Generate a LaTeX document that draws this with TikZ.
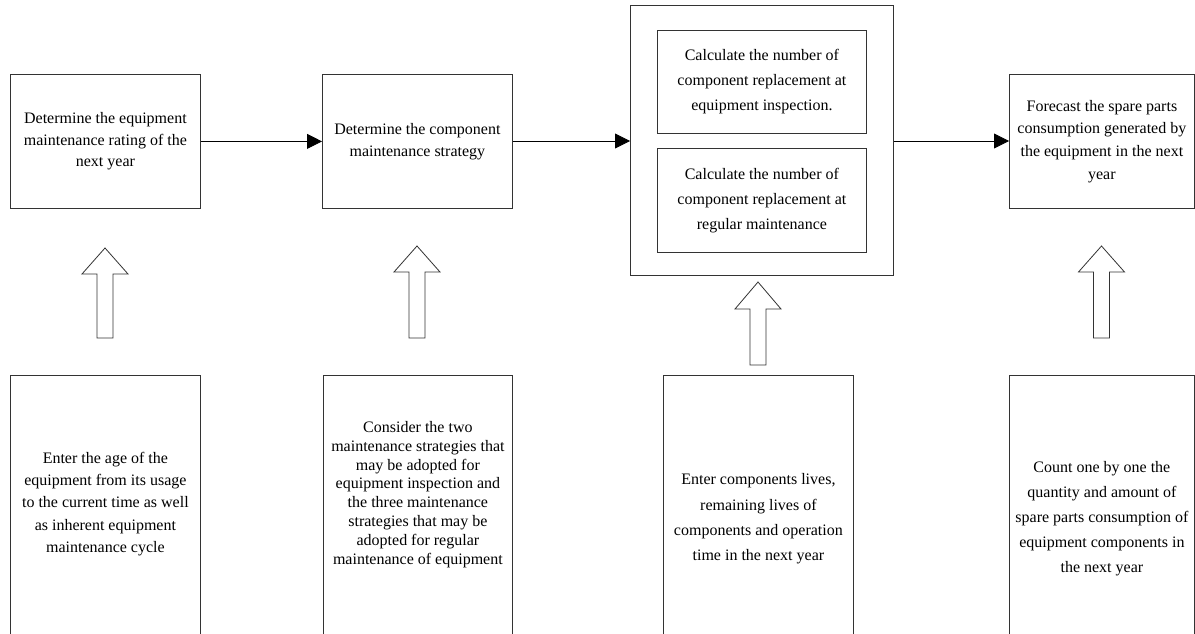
\documentclass[tikz,border=0pt]{standalone}
\usepackage{fontspec}
\setmainfont{Liberation Serif}
\usetikzlibrary{arrows.meta}
\newcommand\hollowarrow[4]{% x, tip y, head base y, bottom y
  \draw[hollow] ({#1},{#2}) -- ({#1+23},{#3}) -- ({#1+8},{#3}) -- ({#1+8},{#4})
    -- ({#1-8},{#4}) -- ({#1-8},{#3}) -- ({#1-23},{#3}) -- cycle;}
\begin{document}
\begin{tikzpicture}[x=1pt,y=-1pt,
  box/.style={draw=black!80, line width=0.8pt, fill=white, inner sep=0pt,
    align=center, anchor=north west, font=\fontsize{16}{21.7}\selectfont},
  txt/.style={align=center, inner sep=0pt},
  link/.style={draw=black, line width=0.8pt, -{Triangle[length=15pt,width=15pt]}},
  hollow/.style={draw=black!80, line width=0.8pt, fill=white}]
\useasboundingbox (0,0) rectangle (1195,634);
\clip (0,0) rectangle (1195,634);
\fill[white] (0,0) rectangle (1195,634);

% top row
\node[box, minimum width=190pt, minimum height=134pt] (A) at (10,74)
  {Determine the equipment\\maintenance rating of the\\next year};
\node[box, minimum width=190pt, minimum height=134pt] (B) at (322,74)
  {Determine the component\\maintenance strategy};
\node[box, minimum width=263pt, minimum height=270pt] (C) at (630,5) {};
\node[box, minimum width=209pt, minimum height=103pt, font=\fontsize{16}{25}\selectfont] (C1) at (657,30)
  {Calculate the number of\\component replacement at\\equipment inspection.};
\node[box, minimum width=209pt, minimum height=104pt, font=\fontsize{16}{25}\selectfont] (C2) at (657,148)
  {Calculate the number of\\component replacement at\\regular maintenance};
\node[box, minimum width=185pt, minimum height=134pt, font=\fontsize{16}{22.8}\selectfont] (D) at (1009,74)
  {Forecast the spare parts\\consumption generated by\\the equipment in the next\\year};

% bottom row (boxes run off the lower edge)
\node[box, minimum width=190pt, minimum height=270pt] (E) at (10,375) {};
\node[box, minimum width=189pt, minimum height=270pt] (F) at (323,375) {};
\node[box, minimum width=190pt, minimum height=270pt] (G) at (663,375) {};
\node[box, minimum width=185pt, minimum height=270pt] (H) at (1009,375) {};

\node[txt, font=\fontsize{16}{22.2}\selectfont] (Et) at (E.north |- 0,504)
  {Enter the age of the\\equipment from its usage\\to the current time as well\\as inherent equipment\\maintenance cycle};
\node[txt, font=\fontsize{16}{18.9}\selectfont] (Ft) at (F.north |- 0,494.5)
  {Consider the two\\maintenance strategies that\\may be adopted for\\equipment inspection and\\the three maintenance\\strategies that may be\\adopted for regular\\maintenance of equipment};
\node[txt, font=\fontsize{16}{25.3}\selectfont] (Gt) at (G.north |- 0,519)
  {Enter components lives,\\remaining lives of\\components and operation\\time in the next year};
\node[txt, font=\fontsize{16}{25}\selectfont] (Ht) at (H.north |- 0,519)
  {Count one by one the\\quantity and amount of\\spare parts consumption of\\equipment components in\\the next year};

% connectors
\draw[link] (A.east) -- (B.west);
\draw[link] (B.east |- 0,141) -- (C.west |- 0,141);
\draw[link] (C.east |- 0,141) -- (D.west |- 0,141);

% hollow up arrows
\hollowarrow{105}{248}{274}{338}
\hollowarrow{417}{246}{272}{338}
\hollowarrow{758}{282}{309}{365}
\hollowarrow{1101.5}{246}{272}{338}
\end{tikzpicture}
\end{document}
